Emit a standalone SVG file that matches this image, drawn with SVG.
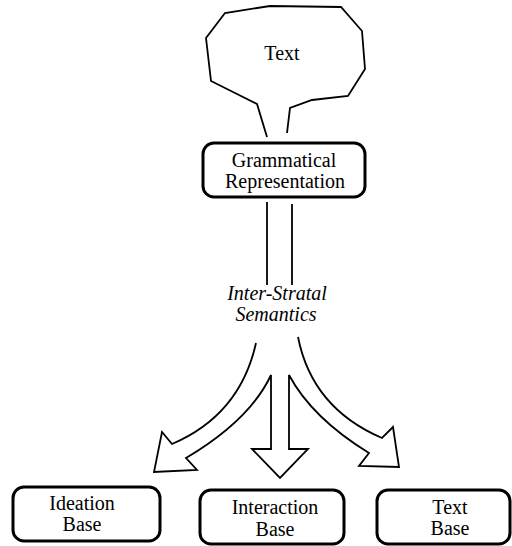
<svg xmlns="http://www.w3.org/2000/svg" width="512" height="546" viewBox="0 0 512 546" font-family="'Liberation Serif', 'DejaVu Serif', serif">
<style>
.box{fill:#fff;stroke:#000;stroke-width:3}
.ln{fill:none;stroke:#000;stroke-width:1.8;stroke-linejoin:miter}
.t{font-family:'Liberation Serif','DejaVu Serif',serif;font-size:20px;fill:#000;text-anchor:middle}
.i{font-style:italic}
</style>
<rect width="512" height="546" fill="#fff"/>
<g id="text-balloon">
<path class="ln" d="M267,137 L257,104 L211,81 L206,38 L225,13 L270,6 L341,7 L362,31 L365,69 L348,96 L312,100 L290,108 L287,133"/>
<text class="t" x="282" y="60">Text</text>
</g>
<g id="grammatical-representation">
<rect class="box" x="203" y="143" width="162" height="54" rx="11"/>
<text class="t" x="284" y="167">Grammatical</text>
<text class="t" x="285" y="188">Representation</text>
</g>
<g id="inter-stratal-semantics">
<text class="t i" x="277" y="300">Inter-Stratal</text>
<text class="t i" x="276" y="321">Semantics</text>
</g>
<g id="connectors">
<line class="ln" x1="267" y1="202" x2="267" y2="285"/>
<line class="ln" x1="292" y1="204" x2="292" y2="285"/>
<path class="ln" d="M256,343 Q240,415 172,444 L162,432 L154,472 L197,470 L186,458 Q250,420 271,375 L271,449 L252,449 L280,478 L308,449 L289,449 L289,375 Q312,418 369,453 L359,466 L399,467 L393,427 L382,438 Q312,408 298,337"/>
</g>
<g id="ideation-base">
<rect class="box" x="13" y="487" width="147" height="54" rx="11"/>
<text class="t" x="82" y="510">Ideation</text>
<text class="t" x="82" y="531">Base</text>
</g>
<g id="interaction-base">
<rect class="box" x="200" y="490" width="144" height="54" rx="11"/>
<text class="t" x="275" y="514">Interaction</text>
<text class="t" x="275" y="536">Base</text>
</g>
<g id="text-base">
<rect class="box" x="377" y="490" width="133" height="54" rx="11"/>
<text class="t" x="450" y="514">Text</text>
<text class="t" x="450" y="535">Base</text>
</g>
</svg>
